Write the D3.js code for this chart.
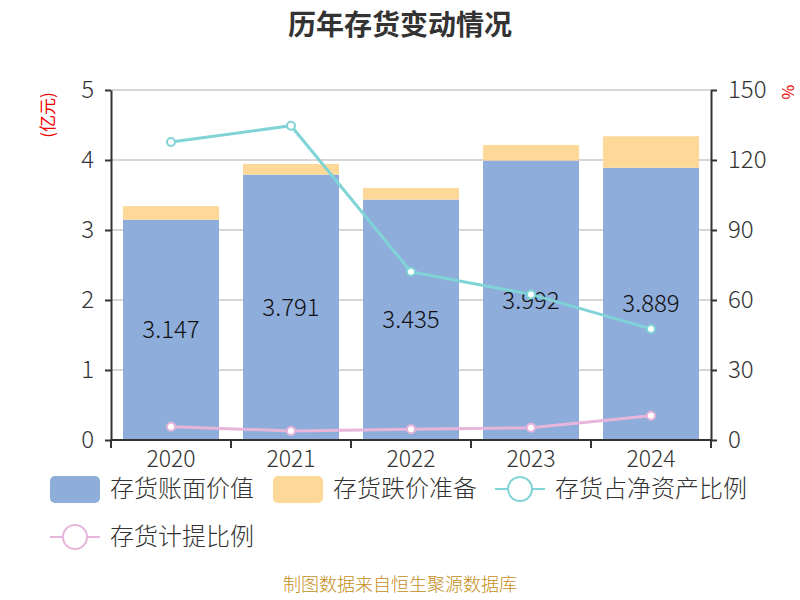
<!DOCTYPE html>
<html>
<head>
<meta charset="utf-8">
<script src="https://cdn.jsdelivr.net/npm/d3@7"></script>
<style>
  body { margin: 0; background: #fff; }
  text { font-family: "Noto Sans CJK SC", "Noto Sans", sans-serif; }
</style>
</head>
<body>
<svg id="chart" width="800" height="600"></svg>
<script>
// data
const years = ["2020", "2021", "2022", "2023", "2024"];
const bookValue = [3.147, 3.791, 3.435, 3.992, 3.889];
const reserve = [0.196, 0.152, 0.165, 0.222, 0.450];
const ratioNetAssets = [127.7, 134.7, 72.1, 62.4, 47.6];
const ratioProvision = [5.7, 3.9, 4.6, 5.3, 10.4];
const leftTicks = [0, 1, 2, 3, 4, 5];
const rightTicks = [0, 30, 60, 90, 120, 150];

const colors = {
    book: "#8eaddb",
    reserve: "#fed898",
    net: "#80d3d6",
    prov: "#e8b5da"
};

const svg = d3.select("#chart");
const margin = {top: 90, right: 89, bottom: 160, left: 111};
const width = 800 - margin.left - margin.right;
const height = 600 - margin.top - margin.bottom;

const x = d3.scaleBand().domain(years).range([0, width]).paddingInner(0.2).paddingOuter(0.1);
const yL = d3.scaleLinear().domain([0, 5]).range([height, 0]);
const yR = d3.scaleLinear().domain([0, 150]).range([height, 0]);

// title
svg.append("text")
    .attr("x", 400).attr("y", 25)
    .attr("dy", "0.35em")
    .attr("text-anchor", "middle")
    .style("font-size", "28px").style("font-weight", "bold")
    .style("fill", "#333")
    .text("历年存货变动情况");

const g = svg.append("g").attr("transform", `translate(${margin.left},${margin.top})`);

// grid lines
g.append("g").selectAll("line")
    .data(leftTicks.filter(d => d > 0))
    .enter().append("line")
    .attr("x1", 0).attr("x2", width)
    .attr("y1", d => yL(d)).attr("y2", d => yL(d))
    .style("stroke", "#c8c8c8").style("stroke-width", 1.5);

// stacked bars
const bars = g.append("g");
bars.selectAll(".book")
    .data(years).enter().append("rect")
    .attr("x", d => x(d))
    .attr("width", x.bandwidth())
    .attr("y", (d, i) => yL(bookValue[i]))
    .attr("height", (d, i) => yL(0) - yL(bookValue[i]))
    .style("fill", colors.book);
bars.selectAll(".res")
    .data(years).enter().append("rect")
    .attr("x", d => x(d))
    .attr("width", x.bandwidth())
    .attr("y", (d, i) => yL(bookValue[i] + reserve[i]))
    .attr("height", (d, i) => yL(bookValue[i]) - yL(bookValue[i] + reserve[i]))
    .style("fill", colors.reserve);

// bar labels
g.append("g").selectAll("text")
    .data(years).enter().append("text")
    .attr("x", d => x(d) + x.bandwidth() / 2)
    .attr("y", (d, i) => (yL(bookValue[i]) + yL(0)) / 2)
    .attr("dy", "0.35em")
    .attr("text-anchor", "middle")
    .style("font-size", "24px").style("font-weight", 300).style("fill", "#111")
    .text((d, i) => bookValue[i].toFixed(3));

// lines
function drawLine(values, color) {
    const line = d3.line()
        .x((d, i) => x(years[i]) + x.bandwidth() / 2)
        .y(d => yR(d));
    g.append("path")
        .datum(values)
        .attr("d", line)
        .style("fill", "none")
        .style("stroke", color)
        .style("stroke-width", 3);
    g.append("g").selectAll("circle")
        .data(values).enter().append("circle")
        .attr("cx", (d, i) => x(years[i]) + x.bandwidth() / 2)
        .attr("cy", d => yR(d))
        .attr("r", 4)
        .style("fill", "#fff")
        .style("stroke", color)
        .style("stroke-width", 2);
}
drawLine(ratioNetAssets, colors.net);
drawLine(ratioProvision, colors.prov);

// axes
const axisStyle = sel => {
    sel.selectAll("path, line").style("stroke", "#333").style("stroke-width", 2);
    sel.selectAll("text").style("font-size", "24px").style("fill", "#333")
        .style("font-weight", 300)
        .style("font-family", "'Noto Sans CJK SC', 'Noto Sans', sans-serif");
};

g.append("g")
    .call(d3.axisLeft(yL).tickValues(leftTicks).tickFormat(d3.format("d"))
        .tickSize(6).tickSizeOuter(0).tickPadding(11))
    .call(axisStyle);

g.append("g")
    .attr("transform", `translate(${width},0)`)
    .call(d3.axisRight(yR).tickValues(rightTicks).tickFormat(d3.format("d"))
        .tickSize(6).tickSizeOuter(0).tickPadding(11))
    .call(axisStyle);

const xAxis = g.append("g")
    .attr("transform", `translate(0,${height})`)
    .call(d3.axisBottom(x).tickSize(0).tickPadding(11))
    .call(axisStyle);
xAxis.selectAll(".tick text").style("font-size", "23px");
xAxis.select(".domain").attr("d", `M0,0H${width}`);
// boundary ticks between categories
xAxis.selectAll(".bound")
    .data(d3.range(years.length + 1)).enter().append("line")
    .attr("x1", i => i * width / years.length)
    .attr("x2", i => i * width / years.length)
    .attr("y1", 0).attr("y2", 8)
    .style("stroke", "#333").style("stroke-width", 2);

// unit labels
svg.append("text")
    .attr("transform", "translate(48,115) rotate(-90)")
    .attr("text-anchor", "middle").attr("dy", "0.35em")
    .style("font-size", "17px").style("fill", "#e00")
    .text("(亿元)");
svg.append("text")
    .attr("transform", "translate(788,92) rotate(90)")
    .attr("text-anchor", "middle").attr("dy", "0.35em")
    .style("font-size", "16px").style("fill", "#e00")
    .text("%");

// legend
const legendItems = [
    {name: "存货账面价值", type: "rect", color: colors.book, x: 50, y: 489},
    {name: "存货跌价准备", type: "rect", color: colors.reserve, x: 273, y: 489},
    {name: "存货占净资产比例", type: "line", color: colors.net, x: 495, y: 489},
    {name: "存货计提比例", type: "line", color: colors.prov, x: 50, y: 537}
];
const legend = svg.append("g");
legendItems.forEach(it => {
    const lg = legend.append("g").attr("transform", `translate(${it.x},${it.y})`);
    if (it.type === "rect") {
        lg.append("rect").attr("x", 0).attr("y", -13).attr("width", 50).attr("height", 27)
            .attr("rx", 5).style("fill", it.color);
    } else {
        lg.append("line").attr("x1", 0).attr("x2", 50).attr("y1", 0).attr("y2", 0)
            .style("stroke", it.color).style("stroke-width", 2);
        lg.append("circle").attr("cx", 25).attr("cy", 0).attr("r", 12)
            .style("fill", "#fff").style("stroke", it.color).style("stroke-width", 2);
    }
    lg.append("text").attr("x", 60).attr("y", 0).attr("dy", "0.35em")
        .style("font-size", "24px").style("font-weight", 300).style("fill", "#333")
        .text(it.name);
});

// footer
svg.append("text")
    .attr("x", 400).attr("y", 591)
    .attr("text-anchor", "middle")
    .style("font-size", "18px").style("font-weight", 300).style("fill", "#c48d16")
    .text("制图数据来自恒生聚源数据库");
</script>
</body>
</html>
